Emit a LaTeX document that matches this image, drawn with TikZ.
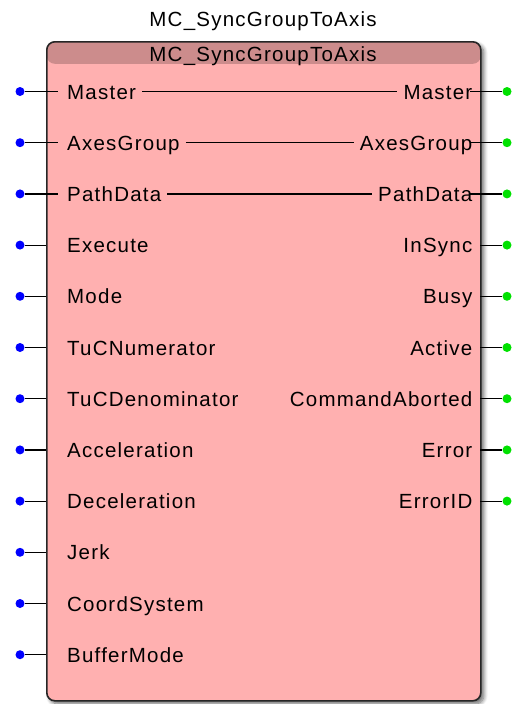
\documentclass[tikz,border=0pt]{standalone}
\usepackage{fontspec}
\setmainfont{Liberation Sans}[LetterSpace=6]
\usetikzlibrary{positioning,calc,shadows.blur}
\definecolor{BlockRed}{RGB}{255,176,176}
\definecolor{HeadRed}{RGB}{204,140,140}
\definecolor{InBlue}{RGB}{0,0,255}
\definecolor{OutGreen}{RGB}{0,225,0}
\tikzset{
  block/.style={draw=black!85, line width=1.6pt, rounded corners=8pt, fill=BlockRed,
    blur shadow={shadow xshift=3pt, shadow yshift=-3pt, shadow blur radius=4pt,
      shadow blur steps=8, shadow opacity=60},
    path picture={\fill[HeadRed] (path picture bounding box.north west)
      rectangle ([yshift=-22pt]path picture bounding box.north east);}},
  pinlabel/.style={font=\fontsize{20.5}{21}\selectfont, inner sep=0pt},
  indot/.style={circle, fill=InBlue, inner sep=0pt, minimum size=9pt},
  outdot/.style={circle, fill=OutGreen, inner sep=0pt, minimum size=9pt},
  wire/.style={line width=1.2pt, black}
}
\begin{document}
\begin{tikzpicture}[x=1pt, y=-1pt]
  \useasboundingbox (0,0) rectangle (512,704);
  % function block
  \node[block, minimum width=434pt, minimum height=659pt, anchor=north west] (fb) at (46,41) {};
  \node[pinlabel, anchor=base] (title) at (263,26.5) {MC\_SyncGroupToAxis};
  \node[pinlabel, anchor=base] (head) at (263,61) {MC\_SyncGroupToAxis};
  % inputs
  \foreach \name [count=\i from 0] in {Master, AxesGroup, PathData, Execute, Mode,
      TuCNumerator, TuCDenominator, Acceleration, Deceleration, Jerk, CoordSystem, BufferMode}{
    \pgfmathsetmacro\ypin{91.5+51.2*\i}
    \pgfmathsetmacro\xend{\i<3 ? 58 : 46}
    \node[indot] (idot\i) at (20,\ypin) {};
    \coordinate (iend\i) at (\xend,\ypin);
    \node[pinlabel, anchor=base west] (in\i) at (67,\ypin+7.5) {\name};
    \draw[wire] (idot\i) -- (iend\i);
  }
  % outputs
  \foreach \name [count=\i from 0] in {Master, AxesGroup, PathData, InSync, Busy,
      Active, CommandAborted, Error, ErrorID}{
    \pgfmathsetmacro\ypin{91.5+51.2*\i}
    \pgfmathsetmacro\xbeg{\i<3 ? 470 : 480}
    \node[outdot] (odot\i) at (507,\ypin) {};
    \coordinate (obeg\i) at (\xbeg,\ypin);
    \node[pinlabel, anchor=base east] (out\i) at (472.5,\ypin+7.5) {\name};
    \draw[wire] (obeg\i) -- (odot\i);
  }
  % in-out pass-through
  \foreach \i in {0,1,2}{
    \draw[wire] ([xshift=6pt]in\i.east |- idot\i) -- ([xshift=-6pt]out\i.west |- idot\i);
  }
\end{tikzpicture}
\end{document}
